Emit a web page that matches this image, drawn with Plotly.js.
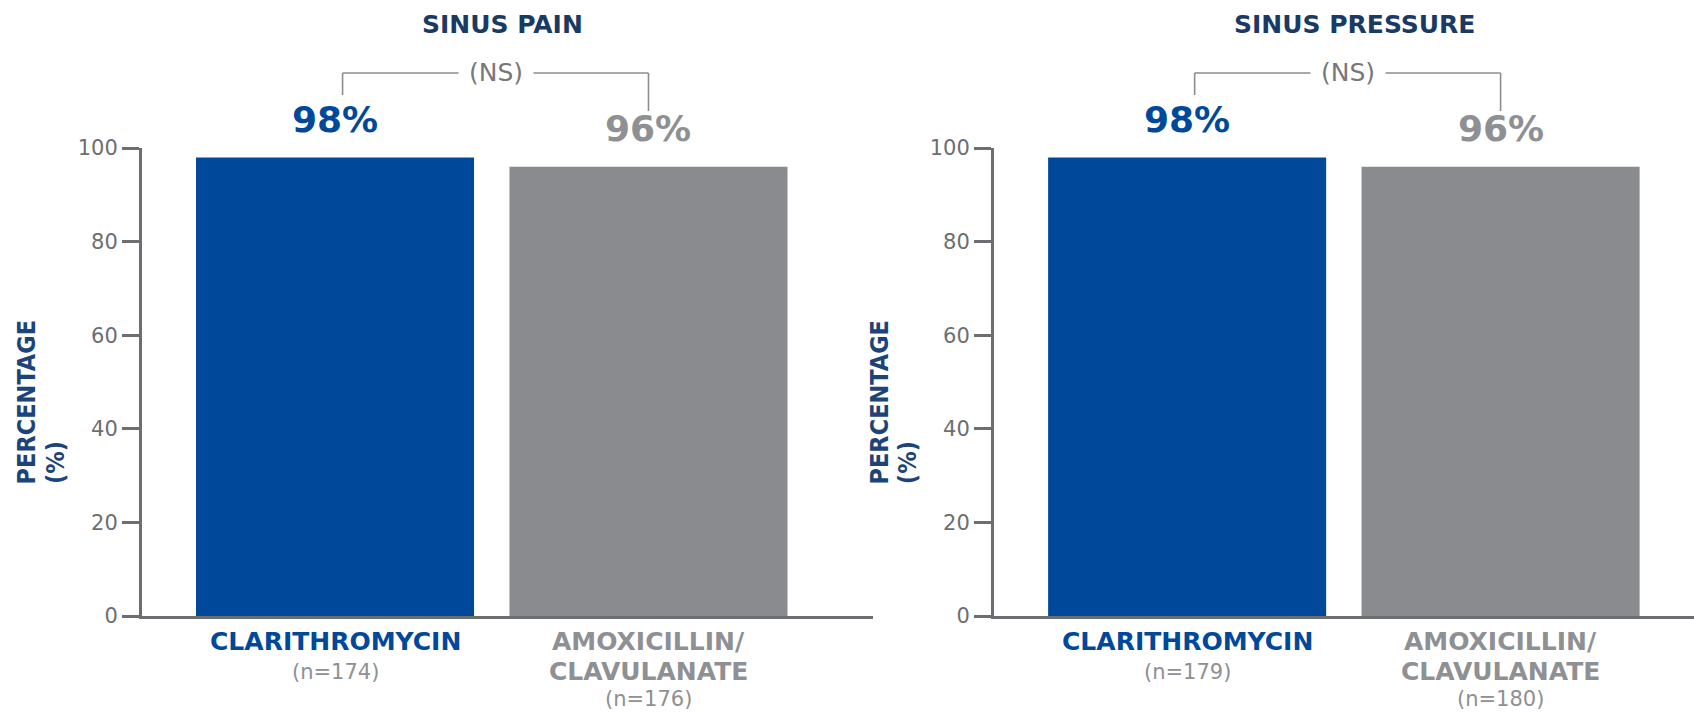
<!DOCTYPE html>
<html><head><meta charset="utf-8">
<script src="https://cdn.plot.ly/plotly-3.0.1.min.js"></script>
<style>html,body{margin:0;padding:0;background:#fff;} #chart{width:1694px;height:712px;}</style>
</head><body><div id="chart"></div>
<script>
// ---- data ----
const panelTitles = ["SINUS PAIN", "SINUS PRESSURE"];
const drugNames = ["CLARITHROMYCIN", "AMOXICILLIN/CLAVULANATE"];
const drugLabelLines = [["CLARITHROMYCIN"], ["AMOXICILLIN/", "CLAVULANATE"]];
const painValues = [98, 96];
const pressureValues = [98, 96];
const painN = [174, 176];
const pressureN = [179, 180];
const significance = ["(NS)", "(NS)"];
const yTicks = [0, 20, 40, 60, 80, 100];
const yTitleLines = ["PERCENTAGE", "(%)"];

// ---- style ----
const FONT = "DejaVu Sans";
const NARROW = "Liberation Sans Narrow, DejaVu Sans Condensed, DejaVu Sans";
const BLUE = "#00499a";
const GRAY_BAR = "#898b8e";
const GRAY_TXT = "#8e9093";
const AXIS = "#6d6e71";
const NAVY = "#1a3a63";
const YT_NAVY = "#1d4478";
const barColors = [BLUE, GRAY_BAR];
const labelColors = [BLUE, GRAY_TXT];

const panels = [
  {values: painValues, n: painN, title: panelTitles[0], sig: significance[0], xa: "x", ya: "y", xdom: [0.0838, 0.5153], xr: [-0.616, 1.716], ytx: [0.0162, 0.0325]},
  {values: pressureValues, n: pressureN, title: panelTitles[1], sig: significance[1], xa: "x2", ya: "y2", xdom: [0.5868, 1.0], xr: [-0.616, 1.617], ytx: [0.5192, 0.5355]}
];
const YDOM = [0.1348, 0.7921];

const traces = [];
const annotations = [];
const shapes = [];
const layout = {
  width: 1694, height: 712,
  margin: {l: 0, r: 0, t: 0, b: 0},
  paper_bgcolor: "#fff", plot_bgcolor: "#fff",
  showlegend: false,
  bargap: 0.113,
  font: {family: FONT, color: AXIS},
  annotations: annotations,
  shapes: shapes
};

const lineY = [0.0997, 0.0562, 0.0185];

panels.forEach((p, k) => {
  traces.push({
    type: "bar", x: drugNames, y: p.values,
    xaxis: p.xa, yaxis: p.ya,
    marker: {color: barColors, line: {width: 0}},
    hoverinfo: "skip"
  });
  const xk = k === 0 ? "xaxis" : "xaxis2";
  const yk = k === 0 ? "yaxis" : "yaxis2";
  layout[xk] = {
    domain: p.xdom, range: p.xr, type: "category",
    showline: true, linecolor: AXIS, linewidth: 3,
    showticklabels: false, ticks: "", showgrid: false, zeroline: false,
    anchor: p.ya, fixedrange: true
  };
  layout[yk] = {
    domain: YDOM, range: [0, 100], anchor: p.xa,
    tickvals: yTicks, ticktext: yTicks.map(String),
    showline: true, linecolor: AXIS, linewidth: 3,
    ticks: "outside", ticklen: 17, tickwidth: 3, tickcolor: AXIS,
    tickfont: {family: FONT, size: 21, color: AXIS},
    ticklabelstandoff: 0,
    showgrid: false, zeroline: false, fixedrange: true
  };

  // panel title
  annotations.push({
    xref: p.xa, yref: "paper", x: 0.533, y: 0.966, xanchor: "center", yanchor: "middle",
    text: "<b>" + p.title + "</b>", showarrow: false,
    font: {family: FONT, size: 25, color: NAVY}
  });

  // significance bracket
  shapes.push({type: "line", xref: p.xa, yref: "paper", x0: 0.024, x1: 1.0, y0: 0.8975, y1: 0.8975, line: {color: "#8c8d8f", width: 1.6}});
  shapes.push({type: "line", xref: p.xa, yref: "paper", x0: 0.024, x1: 0.024, y0: 0.8975, y1: 0.8666, line: {color: "#8c8d8f", width: 1.6}});
  shapes.push({type: "line", xref: p.xa, yref: "paper", x0: 1.0, x1: 1.0, y0: 0.8975, y1: 0.8441, line: {color: "#8c8d8f", width: 1.6}});
  annotations.push({
    xref: p.xa, yref: "paper", x: 0.514, y: 0.8975, xanchor: "center", yanchor: "middle",
    text: p.sig, showarrow: false, bgcolor: "#fff", borderpad: 10,
    font: {family: FONT, size: 25, color: "#77787b"}
  });

  // value labels & category labels
  p.values.forEach((v, i) => {
    annotations.push({
      xref: p.xa, yref: p.ya, x: i, y: v, xanchor: "center", yanchor: "middle", yshift: 38,
      text: "<b>" + v + "%</b>", showarrow: false,
      font: {family: FONT, size: 36, color: labelColors[i]}
    });
    const lines = drugLabelLines[i];
    lines.forEach((t, j) => {
      annotations.push({
        xref: p.xa, yref: "paper", x: i, y: lineY[j], xanchor: "center", yanchor: "middle",
        text: "<b>" + t + "</b>", showarrow: false,
        font: {family: FONT, size: 25, color: labelColors[i]}
      });
    });
    annotations.push({
      xref: p.xa, yref: "paper", x: i, y: lineY[lines.length], xanchor: "center", yanchor: "middle",
      text: "(n=" + p.n[i] + ")", showarrow: false,
      font: {family: FONT, size: 21, color: GRAY_TXT}
    });
  });

  // y-axis title (two rotated lines)
  annotations.push({
    xref: "paper", yref: "paper", x: p.ytx[0], y: 0.4354, xanchor: "center", yanchor: "middle",
    text: "<b>" + yTitleLines[0] + "</b>", textangle: -90, showarrow: false,
    font: {family: NARROW, size: 25, color: YT_NAVY}
  });
  annotations.push({
    xref: "paper", yref: "paper", x: p.ytx[1], y: 0.3497, xanchor: "center", yanchor: "middle",
    text: "<b>" + yTitleLines[1] + "</b>", textangle: -90, showarrow: false,
    font: {family: NARROW, size: 25, color: YT_NAVY}
  });
});

Plotly.newPlot("chart", traces, layout, {displayModeBar: false, staticPlot: true});
</script>
</body></html>
